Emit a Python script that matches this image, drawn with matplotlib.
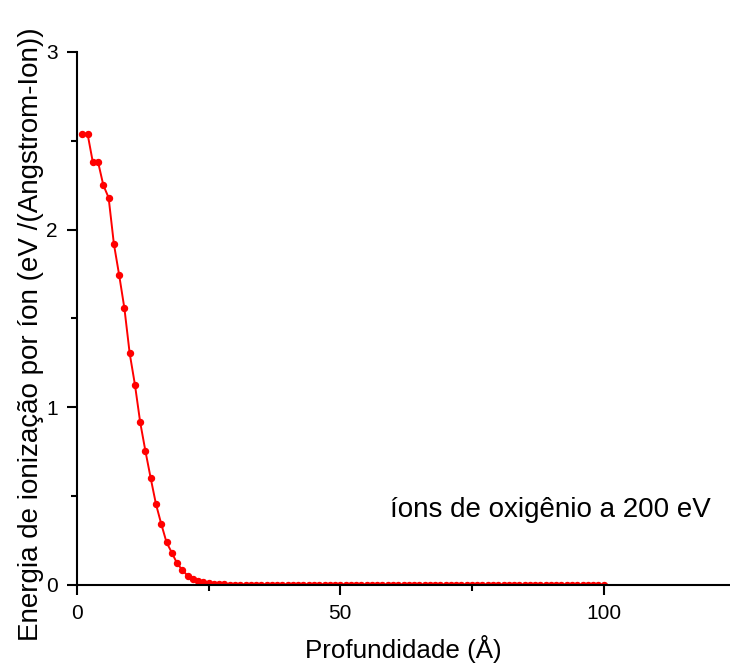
# Ionisation energy profile for low-energy oxygen ions

import matplotlib.pyplot as plt
from matplotlib.ticker import MultipleLocator
import numpy as np

plt.rcParams["font.family"] = ["Liberation Sans", "DejaVu Sans"]

# Depth (Angstrom) and ionisation energy (eV / (Angstrom-Ion))
depth = np.arange(1, 101)
energy_head = [2.54, 2.54, 2.38, 2.38, 2.25, 2.18, 1.92, 1.745, 1.557, 1.304,
               1.127, 0.915, 0.752, 0.600, 0.454, 0.343, 0.240, 0.182, 0.122, 0.084,
               0.052, 0.032, 0.022, 0.015, 0.009, 0.006, 0.004, 0.003, 0.002, 0.002]
energy = energy_head + [0.001] * 20 + [0.0] * 50

xlabel = 'Profundidade (Å)'
ylabel = 'Energia de ionização por íon (eV /(Angstrom-Ion))'
note = 'íons de oxigênio a 200 eV'

fig = plt.figure(figsize=(7.30, 6.69), dpi=100)
ax = fig.add_axes([0.1055, 0.1256, 0.8945, 0.7967])

ax.plot(depth, energy, color='red', lw=1.4, marker='o', ms=4.3, mec='red', mfc='red')

ax.set_xlim(0, 124)
ax.set_ylim(0, 3)
ax.xaxis.set_major_locator(MultipleLocator(50))
ax.xaxis.set_minor_locator(MultipleLocator(25))
ax.yaxis.set_major_locator(MultipleLocator(1))
ax.yaxis.set_minor_locator(MultipleLocator(0.5))

for side in ['top', 'right']:
    ax.spines[side].set_visible(False)
for side in ['left', 'bottom']:
    ax.spines[side].set_linewidth(1.5)

ax.tick_params(which='major', direction='out', length=7.2, width=1.5, labelsize=15)
ax.tick_params(which='minor', direction='out', length=4.5, width=1.5)
ax.tick_params(axis='x', which='major', pad=6.5)
ax.tick_params(axis='y', which='major', pad=6.5)

ax.set_xlabel(xlabel, fontsize=18.7)
ax.set_ylabel(ylabel, fontsize=20)
ax.xaxis.set_label_coords(0.5, -0.094)
ax.yaxis.set_label_coords(-0.05, 0.47)

ax.text(89.8, 0.42, note, fontsize=20, ha='center', va='center')

plt.savefig('out.png', dpi=100)
